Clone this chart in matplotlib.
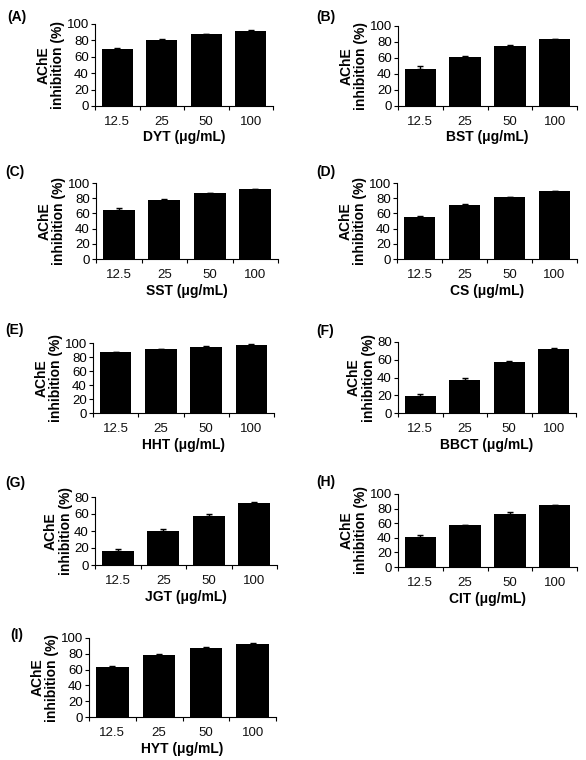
import matplotlib
matplotlib.use("Agg")
import matplotlib.pyplot as plt
import numpy as np

plt.rcParams['font.family'] = ['Liberation Sans', 'DejaVu Sans']

concentrations = ["12.5", "25", "50", "100"]

panel_letters = ["(A)", "(B)", "(C)", "(D)", "(E)", "(F)", "(G)", "(H)", "(I)"]
extracts = ["DYT", "BST", "SST", "CS", "HHT", "BBCT", "JGT", "CIT", "HYT"]

dyt = [70, 80.5, 87.5, 91.5]
dyt_err = [1.0, 0.6, 0.8, 0.8]
bst = [46, 61, 75, 83.5]
bst_err = [4.5, 1.5, 1.0, 0.8]
sst = [65, 78, 86.5, 91.5]
sst_err = [1.5, 1.2, 1.0, 1.0]
cs = [55, 71.5, 81, 89]
cs_err = [1.5, 1.0, 1.0, 0.8]
hht = [87, 91, 95, 97]
hht_err = [0.6, 1.0, 0.5, 1.0]
bbct = [19, 37, 57, 72]
bbct_err = [2.5, 2.5, 1.5, 1.0]
jgt = [17, 40.5, 57.5, 73]
jgt_err = [1.5, 2.0, 3.0, 1.0]
cit = [41, 57, 73, 84.5]
cit_err = [3.0, 1.0, 2.0, 0.6]
hyt = [63.5, 78.5, 87.5, 93]
hyt_err = [1.0, 1.0, 0.8, 0.8]

values = [dyt, bst, sst, cs, hht, bbct, jgt, cit, hyt]
errors = [dyt_err, bst_err, sst_err, cs_err, hht_err, bbct_err, jgt_err, cit_err, hyt_err]
ymaxes = [100, 100, 100, 100, 100, 80, 80, 100, 100]

W, H = 586, 760
# pixel rects: left, right, top, bottom
rects = [
    (95, 273, 24, 106),
    (398, 577, 26, 106),
    (96, 278, 183, 259),
    (397, 577, 183, 259),
    (93, 274, 343, 413),
    (398, 576, 342, 413),
    (95, 277, 497, 565),
    (398, 577, 494, 567),
    (89, 276, 638, 717),
]
letter_pos = [(7, 17), (316, 17), (5, 172), (316, 172), (5, 330), (316, 331),
              (5, 483), (316, 482), (10, 635)]

fig = plt.figure(figsize=(W / 100, H / 100), dpi=100)

for i in range(9):
    L, R, T, B = rects[i]
    ax = fig.add_axes([L / W, 1 - B / H, (R - L) / W, (B - T) / H])
    x = np.arange(len(concentrations))
    ax.bar(x, values[i], width=0.7, color='black', zorder=2)
    ax.errorbar(x, values[i], yerr=[np.zeros(4), errors[i]], fmt='none',
                ecolor='black', elinewidth=1, capsize=2, capthick=1, zorder=3)
    ax.set_xlim(-0.5, 3.5)
    ax.set_ylim(0, ymaxes[i])
    ax.set_yticks(np.arange(0, ymaxes[i] + 1, 20))
    ax.set_xticks(np.arange(-0.5, 4.0, 1.0))
    ax.set_xticklabels([])
    ax.set_xticks(x, minor=True)
    ax.set_xticklabels(concentrations, minor=True)
    ax.tick_params(axis='x', which='major', direction='out', length=3, width=0.8)
    ax.tick_params(axis='x', which='minor', length=0, labelsize=9.5, pad=7, colors='#111111')
    ax.tick_params(axis='y', direction='out', length=3, width=0.8, labelsize=9.5, pad=1.5)
    for s in ['top', 'right']:
        ax.spines[s].set_visible(False)
    ax.spines['left'].set_linewidth(0.8)
    ax.spines['bottom'].set_linewidth(0.8)
    ax.set_ylabel("AChE\ninhibition (%)", fontsize=10, fontweight='bold',
                  labelpad=1, linespacing=1.05)
    ax.set_xlabel(f"{extracts[i]} (\u03bcg/mL)", fontsize=10, fontweight='bold', labelpad=2)
    lx, ly = letter_pos[i]
    fig.text(lx / W, 1 - ly / H, panel_letters[i], fontsize=10, fontweight='bold',
             ha='left', va='center')

fig.savefig("out.png", dpi=100, facecolor='white')
